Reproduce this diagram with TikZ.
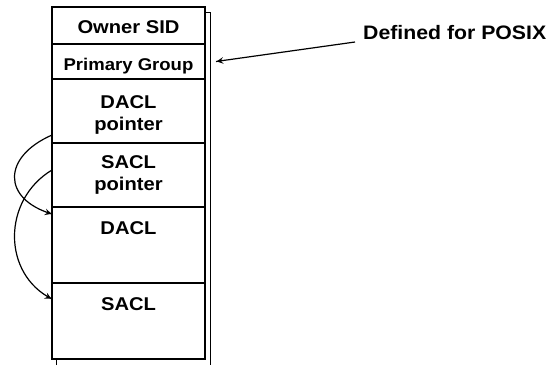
\documentclass[tikz,border=0pt]{standalone}
\usepackage{fontspec}
\setmainfont{Liberation Sans}
\usetikzlibrary{positioning}
\usetikzlibrary{calc}
\usetikzlibrary{decorations.markings}
\newcommand{\wide}[1]{\scalebox{1.09}[1]{#1}}
\tikzset{
  cell/.style={draw, fill=white, line width=1.6pt, minimum width=153pt,
    inner sep=0pt, outer sep=0pt},
  lbl/.style={font=\fontsize{18.5}{22.5}\selectfont\bfseries, inner sep=0pt, align=center},
  ptrArrow/.style={line width=1.2pt, postaction={decorate, decoration={
    markings,
    mark=at position 0.995 with {\arrow[scale=1.3]{stealth}}}}}
}

\begin{document}
\begin{tikzpicture}[x=1pt,y=1pt]
\useasboundingbox (0,-365) rectangle (549,0);

%%%%%%%%%%%%%%%%%%%%%%%%%%%%%%%%%%%%%%%%%%%%%%%%%%%%%%%%%%%%%% Shadow
\draw[line width=0.8pt] (56,-365) -- (56,-12) -- (210,-12) -- (210,-365);

%%%%%%%%%%%%%%%%%%%%%%%%%%%%%%%%%%%%%%%%%%%%%%%%%%%%%%%%%%%%%% Descriptor
\node[cell, minimum height=37pt] (owner) at (128.5,-25.5) {};
\node[cell, minimum height=35pt, below=0pt of owner] (prim) {};
\node[cell, minimum height=64pt, below=0pt of prim] (dptr) {};
\node[cell, minimum height=64pt, below=0pt of dptr] (sptr) {};
\node[cell, minimum height=76pt, below=0pt of sptr] (dacl) {};
\node[cell, minimum height=76pt, below=0pt of dacl] (sacl) {};

\node[lbl, anchor=base] (ownerTxt) at ($(owner.north)+(0,-26.3)$) {\wide{Owner SID}};
\node[lbl, anchor=base, font=\fontsize{17}{20}\selectfont\bfseries] (primTxt) at ($(prim.north)+(0,-26)$) {\wide{Primary Group}};
\node[lbl, anchor=base] (dptrTxt) at ($(dptr.north)+(0,-51.5)$) {\wide{DACL}\\\wide{pointer}};
\node[lbl, anchor=base] (sptrTxt) at ($(sptr.north)+(0,-47.5)$) {\wide{SACL}\\\wide{pointer}};
\node[lbl, anchor=base] (daclTxt) at ($(dacl.north)+(0,-27)$) {\wide{DACL}};
\node[lbl, anchor=base] (saclTxt) at ($(sacl.north)+(0,-27)$) {\wide{SACL}};

%%%%%%%%%%%%%%%%%%%%%%%%%%%%%%%%%%%%%%%%%%%%%%%%%%%%%%%%%%%%%% Pointers
\draw[ptrArrow] ([yshift=8pt]dptr.south west) .. controls +(-50,-22) and +(-50,15) .. ([yshift=-7pt]dacl.north west);
\draw[ptrArrow] ([yshift=5pt]sptr.west) .. controls +(-50,-30) and +(-50,25) .. ([yshift=-16pt]sacl.north west);

%%%%%%%%%%%%%%%%%%%%%%%%%%%%%%%%%%%%%%%%%%%%%%%%%%%%%%%%%%%%%% POSIX
\node[lbl, anchor=base west, font=\fontsize{19.5}{24}\selectfont\bfseries] (posix) at (363,-39) {\wide{Defined for POSIX}};
\draw[ptrArrow] ([xshift=-8pt,yshift=-3pt]posix.base west) -- ([xshift=11pt]prim.east);

\end{tikzpicture}
\end{document}
